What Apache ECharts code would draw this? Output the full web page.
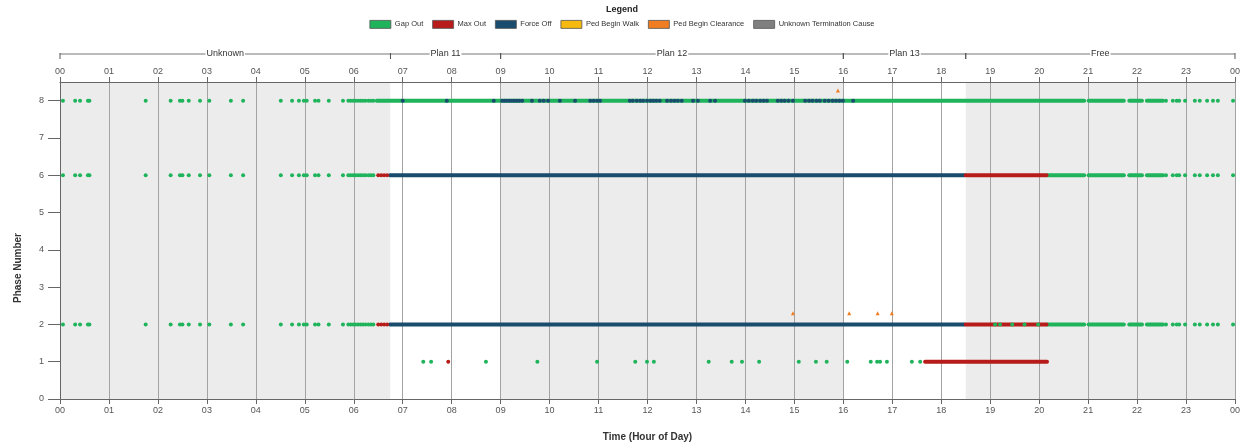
<!DOCTYPE html>
<html>
<head>
<meta charset="utf-8">
<script src="https://cdn.jsdelivr.net/npm/echarts@6/dist/echarts.min.js"></script>
<style>
html, body { margin: 0; padding: 0; background: #fff; }
#main { width: 1244px; height: 447px; }
</style>
</head>
<body>
<div id="main"></div>
<script>
var myChart = echarts.init(document.getElementById('main'));

// plans across the day (hour start, hour end)
var planNames = ['Unknown', 'Plan 11', 'Plan 12', 'Plan 13', 'Free'];
var planStarts = [0, 6.75, 9, 16, 18.5];
var planEnds = [6.75, 9, 16, 18.5, 24];

var phaseTicks = [0, 1, 2, 3, 4, 5, 6, 7, 8];
// phases 8, 6 and 2 gap out together at night
var sharedPhases = [8, 6, 2];
var gapOutEarly = [0.06, 0.31, 0.41, 0.57, 0.6, 1.75, 2.26, 2.45, 2.5, 2.63, 2.86, 3.05, 3.49, 3.74,
	4.51, 4.74, 4.88, 4.98, 5.04, 5.21, 5.28, 5.49, 5.78, 5.89, 5.94, 5.99, 6.04, 6.09, 6.14,
	6.19, 6.24, 6.3, 6.35, 6.4];
var gapOutLate = [22.59, 22.73, 22.81, 22.86, 22.98, 23.18, 23.28, 23.43, 23.55, 23.65, 23.96];
var gapOutPhase1 = [7.42, 7.58, 8.7, 9.75, 10.97, 11.75, 11.99, 12.13, 13.25, 13.72, 13.93, 14.28,
	15.09, 15.44, 15.66, 16.08, 16.56, 16.69, 16.75, 16.89, 17.4, 17.57];
var gapOutPhase2Mix = [19.1, 19.2, 19.45, 19.7, 19.98];
var maxOutEarly = [6.5, 6.56, 6.62, 6.68];
var maxOutPhase1 = [7.93];
var forceOffPhase8 = [7.0, 7.9, 8.86, 9.03, 9.08, 9.13, 9.18, 9.23, 9.28, 9.33, 9.38, 9.44, 9.64, 9.8,
	9.88, 9.97, 10.21, 10.52, 10.83, 10.9, 10.97, 11.03, 11.64, 11.7, 11.78, 11.85, 11.91, 11.99,
	12.06, 12.12, 12.18, 12.25, 12.4, 12.48, 12.55, 12.62, 12.7, 12.93, 13.03, 13.28, 13.38, 13.99,
	14.07, 14.15, 14.22, 14.3, 14.37, 14.44, 14.66, 14.73, 14.8, 14.88, 14.97, 15.22, 15.3, 15.37,
	15.45, 15.52, 15.62, 15.7, 15.78, 15.85, 15.92, 15.99, 16.2];
var pedClearance = [[15.89, 8.27], [14.97, 2.3], [16.12, 2.3], [16.7, 2.3], [16.99, 2.3]];

// continuous runs of events: [start hour, end hour, phase]
var gapOutRuns = [[6.47, 20.92, 8], [21.01, 21.73, 8], [21.84, 22.1, 8], [22.2, 22.53, 8],
	[20.16, 20.92, 6], [21.01, 21.73, 6], [21.84, 22.1, 6], [22.2, 22.53, 6],
	[20.16, 20.92, 2], [21.01, 21.73, 2], [21.84, 22.1, 2], [22.2, 22.53, 2]];
var forceOffRuns = [[6.74, 18.48, 6], [6.74, 18.48, 2]];
var maxOutRuns = [[18.5, 20.15, 6], [18.5, 20.15, 2], [17.67, 20.16, 1]];

var colors = {
	gap: '#1fb45c',
	max: '#b71c1a',
	force: '#1a4c6e',
	walk: '#f5b90f',
	clear: '#f07d21',
	unknown: '#7f7f7f'
};

var gapOutDots = [];
sharedPhases.forEach(function (p) {
	gapOutEarly.forEach(function (h) { gapOutDots.push([h, p]); });
	gapOutLate.forEach(function (h) { gapOutDots.push([h, p]); });
});
gapOutPhase1.forEach(function (h) { gapOutDots.push([h, 1]); });
gapOutPhase2Mix.forEach(function (h) { gapOutDots.push([h, 2]); });

var maxOutDots = [];
[6, 2].forEach(function (p) {
	maxOutEarly.forEach(function (h) { maxOutDots.push([h, p]); });
});
maxOutPhase1.forEach(function (h) { maxOutDots.push([h, 1]); });

var forceOffDots = forceOffPhase8.map(function (h) { return [h, 8]; });

var planData = [];
for (let i = 0; i < planNames.length; i++) {
	planData.push([planStarts[i], planEnds[i]]);
}

function hourLabel(v) {
	var h = Math.round(v) % 24;
	return (h < 10 ? '0' : '') + h;
}

function renderRun(params, api) {
	var a = api.coord([api.value(0), api.value(2)]);
	var b = api.coord([api.value(1), api.value(2)]);
	return {
		type: 'rect',
		shape: { x: a[0] - 2, y: a[1] - 2, width: b[0] - a[0] + 4, height: 4, r: 2 },
		style: { fill: api.visual('color') }
	};
}

function renderShade(params, api) {
	var a = api.coord([api.value(0), 8.5]);
	var b = api.coord([api.value(1), 0]);
	return {
		type: 'rect',
		shape: { x: a[0], y: a[1], width: b[0] - a[0], height: b[1] - a[1] },
		style: { fill: params.dataIndex % 2 === 0 ? '#ececec' : '#ffffff' }
	};
}

function renderBracket(params, api) {
	var a = api.coord([api.value(0), 8.5]);
	var b = api.coord([api.value(1), 8.5]);
	var y = a[1] - 28;
	return {
		type: 'group',
		children: [{
			type: 'line',
			shape: { x1: a[0], y1: y, x2: b[0], y2: y },
			style: { stroke: '#777', lineWidth: 1 }
		}, {
			type: 'line',
			shape: { x1: a[0], y1: y - 1, x2: a[0], y2: y + 5 },
			style: { stroke: '#555', lineWidth: 1 }
		}, {
			type: 'line',
			shape: { x1: b[0], y1: y - 1, x2: b[0], y2: y + 5 },
			style: { stroke: '#555', lineWidth: 1 }
		}, {
			type: 'text',
			x: (a[0] + b[0]) / 2,
			y: y,
			style: {
				text: planNames[params.dataIndex],
				align: 'center',
				verticalAlign: 'middle',
				fontSize: 9,
				fontFamily: 'Liberation Sans',
				fill: '#333',
				backgroundColor: '#fff',
				padding: [0, 1]
			}
		}]
	};
}

var axisFont = { fontSize: 9, color: '#555', fontFamily: 'Liberation Sans' };

option = {
	animation: false,
	title: {
		text: 'Legend',
		left: 'center',
		top: 0,
		textStyle: { fontSize: 9, fontWeight: 'bold', color: '#222', fontFamily: 'Liberation Sans' }
	},
	legend: {
		top: 15,
		left: 'center',
		icon: 'rect',
		itemWidth: 21,
		itemHeight: 8,
		itemGap: 9,
		itemStyle: { borderColor: '#555', borderWidth: 0.8 },
		textStyle: { fontSize: 7.5, color: '#333', fontFamily: 'Liberation Sans', padding: [0, 0, 0, -1] },
		data: ['Gap Out', 'Max Out', 'Force Off', 'Ped Begin Walk', 'Ped Begin Clearance', 'Unknown Termination Cause']
	},
	graphic: [{
		type: 'text',
		x: 18,
		y: 268,
		rotation: Math.PI / 2,
		style: {
			text: 'Phase Number',
			align: 'center',
			verticalAlign: 'middle',
			fontSize: 10,
			fontWeight: 'bold',
			fill: '#333',
			fontFamily: 'Liberation Sans'
		}
	}],
	grid: { left: 60, right: 9, top: 82, bottom: 46 },
	xAxis: [{
		type: 'value',
		min: 0,
		max: 24,
		interval: 1,
		position: 'bottom',
		axisLine: { lineStyle: { color: '#666' } },
		axisTick: { length: 5, lineStyle: { color: '#666' } },
		axisLabel: Object.assign({ formatter: hourLabel, margin: 7 }, axisFont),
		splitLine: { show: true, lineStyle: { color: '#a3a3a3' } },
		name: 'Time (Hour of Day)',
		nameLocation: 'middle',
		nameGap: 33,
		nameTextStyle: { fontSize: 10, fontWeight: 'bold', color: '#333', fontFamily: 'Liberation Sans' }
	}, {
		type: 'value',
		min: 0,
		max: 24,
		interval: 1,
		position: 'top',
		axisLine: { lineStyle: { color: '#666' } },
		axisTick: { length: 5, lineStyle: { color: '#666' } },
		axisLabel: Object.assign({ formatter: hourLabel, margin: 6 }, axisFont),
		splitLine: { show: false }
	}],
	yAxis: {
		type: 'value',
		min: 0,
		max: 8.5,
		interval: 1,
		axisLine: { show: true, lineStyle: { color: '#666' } },
		axisTick: { show: true, length: 12, customValues: phaseTicks, lineStyle: { color: '#666' } },
		axisLabel: Object.assign({
			margin: 16,
			customValues: phaseTicks,
			formatter: function (v) { return v % 1 === 0 ? String(v) : ''; }
		}, axisFont),
		splitLine: { show: false }
	},
	series: [{
		type: 'custom',
		z: -1,
		silent: true,
		renderItem: renderShade,
		encode: { x: [0, 1] },
		data: planData
	}, {
		type: 'custom',
		z: 5,
		clip: false,
		silent: true,
		renderItem: renderBracket,
		encode: { x: [0, 1] },
		data: planData
	}, {
		name: 'Gap Out',
		type: 'scatter',
		z: 3,
		symbolSize: 4,
		itemStyle: { color: colors.gap, opacity: 1 },
		data: gapOutDots
	}, {
		name: 'Max Out',
		type: 'scatter',
		z: 3,
		symbolSize: 4,
		itemStyle: { color: colors.max, opacity: 1 },
		data: maxOutDots
	}, {
		name: 'Force Off',
		type: 'scatter',
		z: 4,
		symbolSize: 4,
		itemStyle: { color: colors.force, opacity: 1 },
		data: forceOffDots
	}, {
		name: 'Ped Begin Walk',
		type: 'scatter',
		symbolSize: 4,
		itemStyle: { color: colors.walk, opacity: 1 },
		data: []
	}, {
		name: 'Ped Begin Clearance',
		type: 'scatter',
		z: 4,
		symbol: 'triangle',
		symbolSize: 4,
		itemStyle: { color: colors.clear, opacity: 1 },
		data: pedClearance
	}, {
		name: 'Unknown Termination Cause',
		type: 'scatter',
		symbolSize: 4,
		itemStyle: { color: colors.unknown, opacity: 1 },
		data: []
	}, {
		name: 'Gap Out',
		type: 'custom',
		z: 2,
		renderItem: renderRun,
		encode: { x: [0, 1], y: 2 },
		itemStyle: { color: colors.gap },
		data: gapOutRuns
	}, {
		name: 'Force Off',
		type: 'custom',
		z: 2,
		renderItem: renderRun,
		encode: { x: [0, 1], y: 2 },
		itemStyle: { color: colors.force },
		data: forceOffRuns
	}, {
		name: 'Max Out',
		type: 'custom',
		z: 2,
		renderItem: renderRun,
		encode: { x: [0, 1], y: 2 },
		itemStyle: { color: colors.max },
		data: maxOutRuns
	}]
};
myChart.setOption(option);
</script>
</body>
</html>
